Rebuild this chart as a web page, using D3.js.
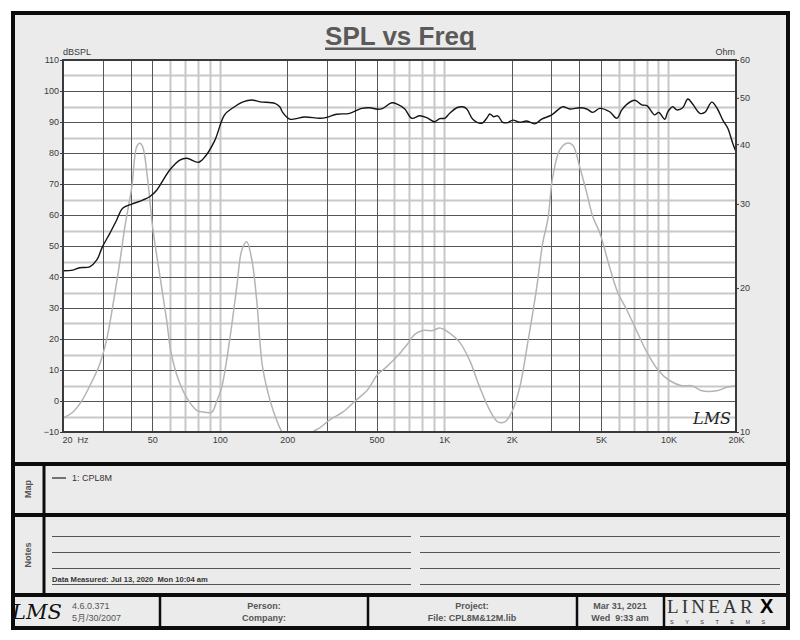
<!DOCTYPE html>
<html>
<head>
<meta charset="utf-8">
<script src="https://cdn.jsdelivr.net/npm/d3@7"></script>
<style>
  body { margin: 0; background: #fff; }
  svg text { font-family: "Liberation Sans", Arial, sans-serif; }
</style>
</head>
<body>
<script>
// SPL vs Freq sheet (LMS style)
var splFreq = [20, 22.1, 23.7, 26.3, 28.3, 30, 32.3, 34.7, 36.9, 40.5, 45.3, 48.7, 52.3, 59.8, 66.3, 71.2, 80.5, 85.7, 94.9,
  105, 114, 127, 139, 151, 176, 185, 191, 205, 216, 239, 279, 300, 332, 379, 429, 466, 506, 533, 584, 621, 668, 717, 778, 837, 908, 956,
  1006, 1059, 1138, 1211, 1262, 1342, 1472, 1548, 1598, 1664, 1733, 1825, 1921, 2023, 2173, 2336, 2536, 2724, 3018, 3380, 3632,
  4024, 4324, 4600, 4940, 5470, 5882, 6194, 6520, 7078, 7604, 8006, 8690, 9054, 9630, 9930, 10450, 10890, 11580, 12200, 12840,
  13800, 14520, 15600, 16420, 17470, 18380, 19350, 20000];
var splDb = [42.0, 42.2, 43.0, 43.3, 45.5, 49.8, 54.0, 58.4, 62.2, 63.5, 64.8, 65.9, 68.0, 74.5, 77.7, 78.3, 77.0, 78.7, 84.0,
  92.3, 94.5, 96.5, 97.1, 96.5, 96.0, 94.9, 93.0, 90.9, 91.0, 91.6, 91.2, 91.5, 92.5, 92.8, 94.4, 94.6, 94.1, 94.4, 96.2, 95.7, 94.2, 91.2, 92.0, 91.4, 90.1, 91.1,
  91.2, 92.8, 94.6, 94.9, 94.2, 90.9, 89.6, 91.2, 92.6, 91.7, 92.0, 89.9, 89.8, 90.6, 89.9, 90.3, 89.4, 90.9, 92.3, 94.9, 94.2,
  94.6, 94.2, 93.1, 94.4, 93.3, 91.2, 93.9, 95.7, 97.0, 95.5, 95.3, 92.3, 93.1, 90.9, 93.3, 94.9, 93.9, 94.6, 97.4, 95.7,
  92.8, 93.1, 96.4, 94.6, 90.6, 88.0, 83.1, 80.4];

var impFreq = [20, 22.1, 24.2, 26.8, 29.2, 31.3, 33.3, 35.8, 37.7, 40.5, 42.6, 44.0, 45.3, 47.7, 50.2, 54.0, 58.0, 60.4, 64.9, 71.2,
  78.9, 85.7, 92.1, 96.9, 102, 110.7, 119, 125.3, 131.8, 139, 146, 155, 167, 179, 189, 205, 225, 245, 260, 279, 309, 353, 400,
  452, 506, 555, 634, 681, 740, 803, 890, 956, 1059, 1174, 1301, 1441, 1598, 1734, 1864, 2002, 2173, 2360, 2588, 2752, 2898,
  3050, 3276, 3522, 3745, 4024, 4324, 4600, 4940, 5470, 5940, 6520, 7078, 8006, 8962, 10140, 11470, 12710, 14080, 16420, 18200, 20000];
var impOhm = [10.7, 11.0, 11.6, 12.7, 13.9, 15.6, 18.3, 22.6, 26.8, 32.5, 39.5, 40.2, 39.5, 33.7, 26.8, 21.3, 17.1, 14.8, 13.0, 11.8,
  11.1, 11.0, 11.0, 11.6, 12.4, 15.6, 20.1, 24.0, 25.0, 22.9, 18.9, 13.7, 11.7, 10.6, 10.0, 9.3, 8.9, 9.4, 10.0, 10.2, 10.6, 11.0, 11.6,
  12.2, 13.2, 13.7, 14.6, 15.2, 16.0, 16.3, 16.3, 16.5, 16.1, 15.4, 14.1, 12.4, 11.1, 10.5, 10.5, 11.0, 12.4, 15.4, 20.1, 24.9, 27.8,
  34.2, 38.9, 40.2, 39.8, 35.8, 31.6, 28.2, 26.1, 22.1, 19.6, 18.0, 16.6, 14.7, 13.5, 12.8, 12.5, 12.5, 12.2, 12.2, 12.4, 12.5];

var dbTicks = [-10, 0, 10, 20, 30, 40, 50, 60, 70, 80, 90, 100, 110];
var ohmTicks = [10, 20, 30, 40, 50, 60];
var freqTicks = [20, 50, 100, 200, 500, 1000, 2000, 5000, 10000, 20000];
var freqLabels = ["20  Hz", "50", "100", "200", "500", "1K", "2K", "5K", "10K", "20K"];

var W = 800, H = 640;
var pL = 63, pR = 736, pT = 60, pB = 432;

var svg = d3.select("body").append("svg")
    .attr("width", W)
    .attr("height", H);

// sheet background
svg.append("rect")
    .attr("x", 13).attr("y", 13).attr("width", 775).attr("height", 615)
    .attr("fill", "#ebebeb");

var x = d3.scaleLog().domain([20, 20000]).range([pL, pR]);
var y = d3.scaleLinear().domain([-10, 110]).range([pB, pT]);
var yR = d3.scaleLog().domain([10, 60]).range([pB, pT]);

svg.append("rect")
    .attr("x", pL).attr("y", pT)
    .attr("width", pR - pL).attr("height", pB - pT)
    .attr("fill", "#fff");

// grid
var minorF = [], majorF = [];
[10, 100, 1000, 10000].forEach(function(d) {
    for (var m = 1; m <= 9; m++) {
        var f = m * d;
        if (f <= 20 || f >= 20000) continue;
        if (m >= 2 && m <= 5) majorF.push(f); else minorF.push(f);
    }
});
var halfDb = d3.range(-5, 110, 10);
var tenDb = d3.range(0, 110, 10);

var grid = svg.append("g");
grid.selectAll(".vminor").data(minorF).enter().append("line")
    .attr("x1", function(d) { return Math.round(x(d)) + 0.5; })
    .attr("x2", function(d) { return Math.round(x(d)) + 0.5; })
    .attr("y1", pT).attr("y2", pB)
    .attr("stroke", "#c8c8c8").attr("stroke-width", 2);
grid.selectAll(".hminor").data(halfDb).enter().append("line")
    .attr("x1", pL).attr("x2", pR)
    .attr("y1", function(d) { return Math.round(y(d)) + 0.5; })
    .attr("y2", function(d) { return Math.round(y(d)) + 0.5; })
    .attr("stroke", "#c8c8c8").attr("stroke-width", 2);
grid.selectAll(".vmajor").data(majorF).enter().append("line")
    .attr("x1", function(d) { return Math.round(x(d)) + 0.5; })
    .attr("x2", function(d) { return Math.round(x(d)) + 0.5; })
    .attr("y1", pT).attr("y2", pB)
    .attr("stroke", "#555").attr("stroke-width", 1);
grid.selectAll(".hmajor").data(tenDb).enter().append("line")
    .attr("x1", pL).attr("x2", pR)
    .attr("y1", function(d) { return Math.round(y(d)) + 0.5; })
    .attr("y2", function(d) { return Math.round(y(d)) + 0.5; })
    .attr("stroke", "#555").attr("stroke-width", 1);

// curves
svg.append("clipPath").attr("id", "plotclip")
  .append("rect")
    .attr("x", pL).attr("y", pT)
    .attr("width", pR - pL).attr("height", pB - pT);

var splLine = d3.line()
    .x(function(d) { return x(d[0]); })
    .y(function(d) { return y(d[1]); })
    .curve(d3.curveCatmullRom.alpha(0.5));
var impLine = d3.line()
    .x(function(d) { return x(d[0]); })
    .y(function(d) { return yR(d[1]); })
    .curve(d3.curveCatmullRom.alpha(0.5));

var curves = svg.append("g").attr("clip-path", "url(#plotclip)");
curves.append("path")
    .datum(d3.zip(impFreq, impOhm))
    .attr("d", impLine)
    .attr("fill", "none")
    .attr("stroke", "#b4b4b4")
    .attr("stroke-width", 1.5);
curves.append("path")
    .datum(d3.zip(splFreq, splDb))
    .attr("d", splLine)
    .attr("fill", "none")
    .attr("stroke", "#151515")
    .attr("stroke-width", 1.4);

// frame
svg.append("rect")
    .attr("x", pL).attr("y", pT)
    .attr("width", pR - pL).attr("height", pB - pT)
    .attr("fill", "none").attr("stroke", "#3a3a3a").attr("stroke-width", 2);

// axes
var axL = svg.append("g")
    .attr("transform", "translate(" + pL + ",0)")
    .call(d3.axisLeft(y).tickValues(dbTicks).tickSize(3).tickPadding(1));
var axR = svg.append("g")
    .attr("transform", "translate(" + pR + ",0)")
    .call(d3.axisRight(yR).tickValues(ohmTicks).tickSize(3).tickPadding(1).tickFormat(d3.format("d")));
var axB = svg.append("g")
    .attr("transform", "translate(0," + pB + ")")
    .call(d3.axisBottom(x).tickValues(freqTicks).tickSize(0).tickPadding(5)
        .tickFormat(function(d, i) { return freqLabels[i]; }));
[axL, axR, axB].forEach(function(a) {
    a.select(".domain").remove();
    a.selectAll("line").attr("stroke", "#3a3a3a");
    a.selectAll("text").attr("font-size", 9).attr("fill", "#3a3a3a")
        .attr("font-family", "Liberation Sans, Arial, sans-serif");
});
axB.selectAll("text").filter(function(d) { return d === 20; })
    .attr("text-anchor", "start").attr("dx", -1).style("white-space", "pre");

svg.append("text").attr("x", pL).attr("y", 55)
    .attr("font-size", 9).attr("fill", "#3a3a3a").text("dBSPL");
svg.append("text").attr("x", pR - 1).attr("y", 55)
    .attr("font-size", 9).attr("fill", "#3a3a3a").attr("text-anchor", "end").text("Ohm");

// title
svg.append("text").attr("x", 400).attr("y", 45)
    .attr("text-anchor", "middle").attr("font-size", 26).attr("font-weight", "bold")
    .attr("fill", "#5a5a5a").text("SPL vs Freq");
svg.append("rect").attr("x", 325).attr("y", 47.5).attr("width", 151).attr("height", 2.5)
    .attr("fill", "#5a5a5a");

// LMS mark in plot
svg.append("text").attr("x", 712).attr("y", 424)
    .attr("text-anchor", "middle").attr("font-size", 16).attr("font-style", "italic")
    .style("font-family", "DejaVu Serif, serif").attr("fill", "#222")
    .text("LMS");

// sheet sections
var ink = "#0c0c0c";
function hline(x1, x2, yy, w, c) {
    svg.append("line").attr("x1", x1).attr("x2", x2).attr("y1", yy).attr("y2", yy)
        .attr("stroke", c || ink).attr("stroke-width", w);
}
function vline(xx, y1, y2, w, c) {
    svg.append("line").attr("x1", xx).attr("x2", xx).attr("y1", y1).attr("y2", y2)
        .attr("stroke", c || ink).attr("stroke-width", w);
}
hline(13, 788, 464, 4);
hline(13, 788, 515, 4);
hline(13, 788, 595, 4);
vline(44, 464, 595, 3);
[160, 368, 577, 664].forEach(function(xx) { vline(xx, 595, 628, 2.5); });

svg.append("rect")
    .attr("x", 13).attr("y", 13).attr("width", 775).attr("height", 615)
    .attr("fill", "none").attr("stroke", ink).attr("stroke-width", 4);

// side labels
[["Map", 489], ["Notes", 555]].forEach(function(s) {
    svg.append("text").attr("transform", "translate(31," + s[1] + ") rotate(-90)")
        .attr("text-anchor", "middle").attr("font-size", 9).attr("font-weight", "bold")
        .attr("fill", "#555").text(s[0]);
});

// map legend
hline(52, 66, 478, 1.2, "#222");
svg.append("text").attr("x", 72).attr("y", 481)
    .attr("font-size", 9).attr("fill", "#333").text("1: CPL8M");

// notes lines
[536, 552, 568, 584].forEach(function(yy) {
    hline(52, 411, yy + 0.5, 1, "#555");
    hline(420, 780, yy + 0.5, 1, "#555");
});
svg.append("text").attr("x", 52).attr("y", 582)
    .attr("font-size", 7.6).attr("font-weight", "bold").attr("fill", "#333")
    .style("white-space", "pre")
    .text("Data Measured: Jul 13, 2020  Mon 10:04 am");

// footer
svg.append("text").attr("x", 37).attr("y", 619)
    .attr("text-anchor", "middle").attr("font-size", 21).attr("font-style", "italic")
    .style("font-family", "DejaVu Serif, serif").attr("fill", "#111").text("LMS");
svg.append("text").attr("x", 72).attr("y", 609)
    .attr("font-size", 9).attr("fill", "#555").text("4.6.0.371");
svg.append("text").attr("x", 72).attr("y", 621)
    .attr("font-size", 9).attr("fill", "#555").text("5月/30/2007");

function cell(cx, a, b) {
    svg.append("text").attr("x", cx).attr("y", 609).attr("text-anchor", "middle")
        .attr("font-size", 9).attr("font-weight", "bold").attr("fill", "#555").text(a);
    svg.append("text").attr("x", cx).attr("y", 621).attr("text-anchor", "middle")
        .attr("font-size", 9).attr("font-weight", "bold").attr("fill", "#555")
        .style("white-space", "pre").text(b);
}
cell(264, "Person:", "Company:");
cell(472, "Project:", "File: CPL8M&12M.lib");
cell(620, "Mar 31, 2021", "Wed  9:33 am");

// LinearX logo
svg.append("text").attr("x", 667).attr("y", 613)
    .attr("font-size", 19).attr("letter-spacing", 3.2)
    .style("font-family", "Liberation Serif, serif").attr("fill", "#333").text("LINEAR");
svg.append("text").attr("x", 760).attr("y", 613)
    .attr("font-size", 20).attr("font-weight", "900").attr("fill", "#000").text("X");
svg.append("text").attr("x", 670).attr("y", 624)
    .attr("font-size", 5.5).attr("letter-spacing", 11.5).attr("fill", "#333").text("SYSTEMS");
</script>
</body>
</html>
